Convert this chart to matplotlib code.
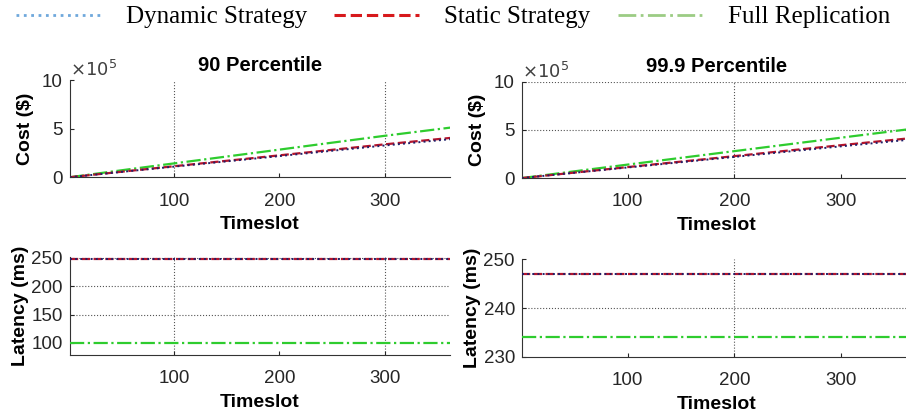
import matplotlib
matplotlib.use("Agg")
import matplotlib.pyplot as plt
from matplotlib.lines import Line2D

# sampled timeslots (cost grows linearly over the year)
timeslots = [1, 60, 120, 180, 240, 300, 365]

# cost in $ , 90 percentile
dyn_cost_90 = [0.0, 0.66e5, 1.31e5, 1.96e5, 2.62e5, 3.27e5, 3.95e5]
sta_cost_90 = [0.0, 0.68e5, 1.36e5, 2.03e5, 2.71e5, 3.39e5, 4.08e5]
full_cost_90 = [0.0, 0.86e5, 1.71e5, 2.56e5, 3.42e5, 4.27e5, 5.15e5]

# cost in $ , 99.9 percentile
dyn_cost_999 = [0.0, 0.66e5, 1.32e5, 1.98e5, 2.64e5, 3.30e5, 4.00e5]
sta_cost_999 = [0.0, 0.68e5, 1.37e5, 2.05e5, 2.74e5, 3.42e5, 4.15e5]
full_cost_999 = [0.0, 0.84e5, 1.68e5, 2.52e5, 3.36e5, 4.20e5, 5.10e5]

# latency (ms), constant over time
lat_slots = [1, 365]
dyn_lat_90 = [248, 248]
sta_lat_90 = [248, 248]
full_lat_90 = [100, 100]
dyn_lat_999 = [247, 247]
sta_lat_999 = [247, 247]
full_lat_999 = [234, 234]

labels = ["Dynamic Strategy", "Static Strategy", "Full Replication"]
scale = 1e5  # cost axis is shown in units of 10^5

c_dyn = "#20206a"
c_sta = "#b3142c"
c_full = "#2ecc2e"
tick_col = "#262626"

plt.rcParams["font.family"] = ["Liberation Sans", "DejaVu Sans"]

fig = plt.figure(figsize=(9.06, 4.18), dpi=100)

ax1 = fig.add_axes([0.077, 0.576, 0.4195, 0.232])
ax2 = fig.add_axes([0.576, 0.574, 0.430, 0.230])
ax3 = fig.add_axes([0.077, 0.151, 0.4195, 0.235])
ax4 = fig.add_axes([0.576, 0.146, 0.430, 0.234])


def draw(ax, x, d, s, f):
    ax.plot(x, f, color=c_full, ls="-.", lw=1.6, zorder=3)
    ax.plot(x, s, color=c_sta, ls="--", lw=1.6, zorder=4)
    ax.plot(x, d, color=c_dyn, ls=":", lw=1.4, zorder=5)


draw(ax1, timeslots, [v / scale for v in dyn_cost_90],
     [v / scale for v in sta_cost_90], [v / scale for v in full_cost_90])
draw(ax2, timeslots, [v / scale for v in dyn_cost_999],
     [v / scale for v in sta_cost_999], [v / scale for v in full_cost_999])
draw(ax3, lat_slots, dyn_lat_90, sta_lat_90, full_lat_90)
draw(ax4, lat_slots, dyn_lat_999, sta_lat_999, full_lat_999)

grid_kw = dict(color="#555555", ls=":", lw=0.8, zorder=1)
for v in [100, 300]:
    ax1.axvline(v, **grid_kw)
    ax3.axvline(v, **grid_kw)
ax2.axvline(200, **grid_kw)
for h in [5, 10]:
    ax2.axhline(h, **grid_kw)
for h in [150, 200, 250]:
    ax3.axhline(h, **grid_kw)
ax4.axvline(200, **grid_kw)
ax4.axhline(240, **grid_kw)

ax1.set_xlim(1, 362)
ax3.set_xlim(1, 362)
ax2.set_xlim(1, 366)
ax4.set_xlim(1, 366)

for ax in [ax1, ax2]:
    ax.set_ylim(0, 10)
    ax.set_yticks([0, 5, 10])
    ax.text(0.0, 1.0, r"$\times10^5$", transform=ax.transAxes, fontsize=13,
            color="#404040", ha="left", va="bottom")
    ax.set_ylabel("Cost ($)", fontsize=14, fontweight="bold", labelpad=6)

ax3.set_ylim(79, 252)
ax3.set_yticks([100, 150, 200, 250])
ax4.set_ylim(230, 250)
ax4.set_yticks([230, 240, 250])
for ax in [ax3, ax4]:
    ax.set_ylabel("Latency (ms)", fontsize=14, fontweight="bold", labelpad=2)

for ax in [ax1, ax2, ax3, ax4]:
    ax.set_xticks([100, 200, 300])
    ax.spines["top"].set_visible(False)
    ax.spines["right"].set_visible(False)
    ax.spines["left"].set_color("#333333")
    ax.spines["bottom"].set_color("#333333")
    ax.tick_params(direction="in", length=3, labelsize=13.5, colors=tick_col)
    ax.tick_params(axis="x", pad=11)
    ax.tick_params(axis="y", pad=5)
    ax.set_xlabel("Timeslot", fontsize=14, fontweight="bold", labelpad=5)

ax1.set_title("90 Percentile", fontsize=14.5, fontweight="bold", pad=7)
ax2.set_title("99.9 Percentile", fontsize=14.5, fontweight="bold", pad=7)

handles = [
    Line2D([], [], color="#6fa8dc", ls=":", lw=2),
    Line2D([], [], color="#d7191c", ls="--", lw=2.2),
    Line2D([], [], color="#9ccc84", ls="-.", lw=2),
]
fig.legend(handles, labels, loc="upper center", bbox_to_anchor=(0.5, 1.04),
           ncol=3, frameon=False, handlelength=3.4, handletextpad=1.0,
           columnspacing=1.1,
           prop={"family": "Liberation Serif", "size": 18})

fig.savefig("out.png", dpi=100)
